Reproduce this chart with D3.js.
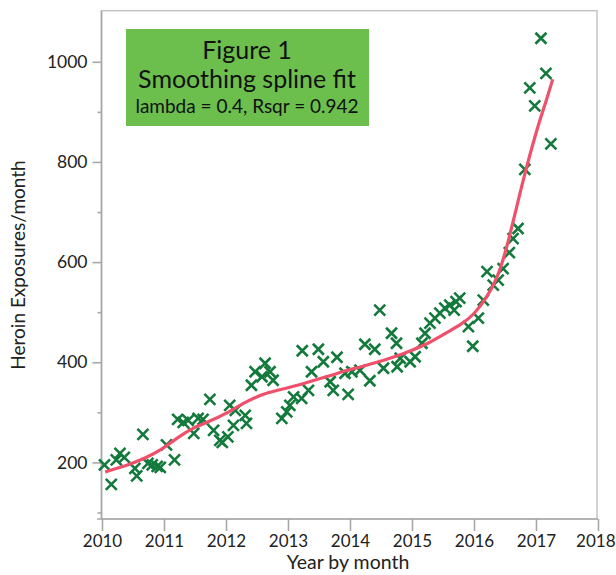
<!DOCTYPE html>
<html><head><meta charset="utf-8">
<script src="https://cdn.jsdelivr.net/npm/d3@7"></script>
<style>body{margin:0;background:#fff}svg{display:block}</style>
</head><body>
<script>
// observed points: decimal year and exposures per month
const pointYears = [2010.04,2010.15,2010.23,2010.29,2010.36,2010.53,2010.56,2010.66,2010.74,2010.81,2010.89,2010.94,
2011.04,2011.17,2011.22,2011.31,2011.39,2011.48,2011.55,2011.63,2011.74,2011.80,2011.90,2011.94,
2012.03,2012.06,2012.12,2012.15,2012.31,2012.33,2012.41,2012.47,2012.58,2012.63,2012.71,2012.76,2012.90,2012.98,
2013.03,2013.09,2013.22,2013.23,2013.33,2013.38,2013.49,2013.57,2013.68,2013.73,2013.79,2013.92,2013.97,
2014.03,2014.16,2014.24,2014.32,2014.40,2014.48,2014.54,2014.67,2014.75,2014.76,2014.81,2014.97,
2015.05,2015.16,2015.21,2015.29,2015.37,2015.45,2015.53,2015.61,2015.68,2015.71,2015.77,2015.91,2015.98,
2016.07,2016.15,2016.21,2016.31,2016.39,2016.47,2016.57,2016.63,2016.71,2016.82,2016.90,2016.98,
2017.08,2017.16,2017.24];
const exposures = [195,156,205,218,210,188,173,256,198,195,192,190,
235,205,286,280,284,258,288,286,326,264,244,240,
251,314,274,304,294,278,354,381,371,398,381,364,288,301,
314,331,328,423,344,381,426,401,361,344,410,378,336,
381,384,436,363,426,504,388,458,438,391,408,401,
411,438,458,478,488,498,508,514,504,521,528,471,432,
488,524,581,554,564,587,619,647,667,785,948,912,
1047,977,836];
// smoothing spline fit
const splineYears = [2010.05,2010.43,2010.69,2010.96,2011.23,2011.50,2011.77,2011.95,2012.36,2012.63,2012.90,2013.17,2013.44,2013.71,2013.94,2014.19,2014.46,2014.73,2015.00,2015.27,2015.54,2015.80,2016.00,2016.20,2016.37,2016.52,2016.79,2017.01,2017.17,2017.27];
const splineValues = [181,195,208,225,251,271,284,294,324,338,346,354,365,374,384,391,401,411,424,438,458,476,495,528,566,622,764,864,924,965];
const xTicks = [2010,2011,2012,2013,2014,2015,2016,2017,2018];
const yMajor = [200,400,600,800,1000];
const yMinor = [100,300,500,700,900];
const titleLines = ["Figure 1","Smoothing spline fit","lambda = 0.4, Rsqr = 0.942"];
const xTitle = "Year by month";
const yTitle = "Heroin Exposures/month";

const W=616,H=575;
const svg=d3.select("body").append("svg").attr("width",W).attr("height",H);
const font="Lato, 'Open Sans', sans-serif";
const x=d3.scaleLinear().domain([2010,2018]).range([102,598]);
const y=d3.scaleLinear().domain([87,1102]).range([519,10.7]);

// frame
svg.append("rect").attr("x",101.5).attr("y",10.7).attr("width",597-101.5).attr("height",519-10.7)
  .attr("fill","none").attr("stroke","#c4c4c4").attr("stroke-width",1.5);
// axes lines
svg.append("line").attr("x1",101.5).attr("x2",101.5).attr("y1",10.7).attr("y2",519).attr("stroke","#a8a8a8").attr("stroke-width",1.6);
svg.append("line").attr("x1",97).attr("x2",598).attr("y1",519).attr("y2",519).attr("stroke","#a8a8a8").attr("stroke-width",1.6);

const xAxis=d3.axisBottom(x).tickValues(xTicks).tickFormat(d3.format("d")).tickSize(12).tickPadding(4);
const gx=svg.append("g").attr("transform","translate(0,519)").call(xAxis);
gx.select(".domain").remove();
gx.selectAll(".tick line").attr("stroke","#a8a8a8").attr("stroke-width",1.6);
gx.selectAll(".tick text").attr("font-family",font).attr("font-size",17).attr("fill","#222");
// keep the last label inside the page, as in the reference
gx.selectAll(".tick text").filter(d=>d===2018).attr("text-anchor","end").attr("dx",17);

const yAxis=d3.axisLeft(y).tickValues(yMajor).tickFormat(d3.format("d")).tickSize(9).tickPadding(5);
const gy=svg.append("g").attr("transform","translate(101.5,0)").call(yAxis);
gy.select(".domain").remove();
gy.selectAll(".tick line").attr("stroke","#a8a8a8").attr("stroke-width",1.6);
gy.selectAll(".tick text").attr("font-family",font).attr("font-size",17.5).attr("fill","#222");
const yAxisMinor=d3.axisLeft(y).tickValues(yMinor).tickSize(4).tickFormat("");
const gym=svg.append("g").attr("transform","translate(101.5,0)").call(yAxisMinor);
gym.select(".domain").remove();
gym.selectAll(".tick line").attr("stroke","#a8a8a8").attr("stroke-width",1.6);

// title box
svg.append("rect").attr("x",126).attr("y",29).attr("width",243).attr("height",97).attr("fill","#6cbf4c");
svg.selectAll("text.ttl").data(titleLines).join("text").attr("class","ttl")
  .attr("x",247).attr("y",(d,i)=>[59,88,113][i]).attr("text-anchor","middle")
  .attr("font-family",font).attr("font-size",(d,i)=>i<2?25:19).attr("fill","#111").text(d=>d);

// points
const pts=pointYears.map((t,i)=>({t,v:exposures[i]}));
const s=5.5;
const g=svg.append("g").attr("stroke","#137a3c").attr("stroke-width",2.6).attr("stroke-linecap","butt");
g.selectAll("path").data(pts).join("path")
  .attr("d",d=>{const cx=x(d.t),cy=y(d.v);return `M${cx-s},${cy-s}L${cx+s},${cy+s}M${cx-s},${cy+s}L${cx+s},${cy-s}`;});

// spline
const line=d3.line().x((d,i)=>x(splineYears[i])).y(d=>y(d)).curve(d3.curveBasis);
svg.append("path").attr("d",line(splineValues)).attr("fill","none").attr("stroke","#ef506b").attr("stroke-width",3.2);

// axis titles
svg.append("text").attr("x",348).attr("y",569).attr("text-anchor","middle").attr("font-family",font).attr("font-size",19.5).attr("fill","#222").text(xTitle);
svg.append("text").attr("transform","translate(25,265) rotate(-90)").attr("text-anchor","middle").attr("font-family",font).attr("font-size",19).attr("fill","#222").text(yTitle);
</script>
</body></html>
